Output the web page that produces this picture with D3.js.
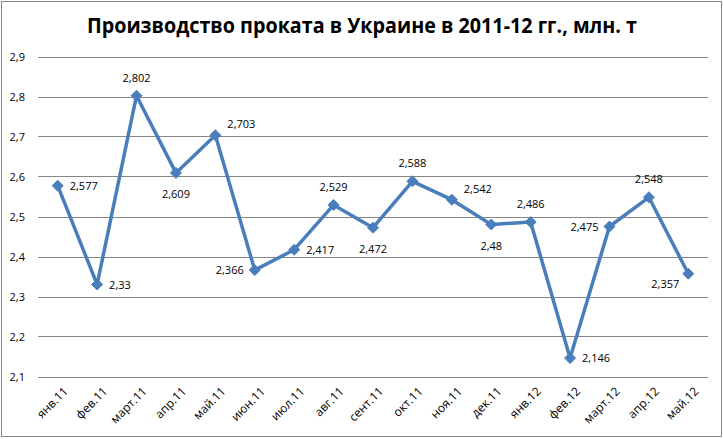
<!DOCTYPE html>
<html><head><meta charset="utf-8">
<script src="https://cdn.jsdelivr.net/npm/d3@7"></script>
<style>
body{margin:0;background:#fff;}
text{font-family:"Open Sans","Noto Sans",sans-serif;}
</style></head>
<body><svg id="c" width="723" height="439"></svg>
<script>
const categories = ["янв.11","фев.11","март.11","апр.11","май.11","июн.11","июл.11","авг.11","сент.11","окт.11","ноя.11","дек.11","янв.12","фев.12","март.12","апр.12","май.12"];
const values = [2.577,2.33,2.802,2.609,2.703,2.366,2.417,2.529,2.472,2.588,2.542,2.48,2.486,2.146,2.475,2.548,2.357];
const labelText = ["2,577","2,33","2,802","2,609","2,703","2,366","2,417","2,529","2,472","2,588","2,542","2,48","2,486","2,146","2,475","2,548","2,357"];
// label placement: r=right, a=above, b=below, l=left, ra=right-above, bl=below-left
const labelPos = ["r","r","a","b","ra","l","r","a","b","a","ra","b","a","r","l","a","bl"];
const yTicks = [2.1,2.2,2.3,2.4,2.5,2.6,2.7,2.8,2.9];
const yTickLabels = ["2,1","2,2","2,3","2,4","2,5","2,6","2,7","2,8","2,9"];
const title = "Производство проката в Украине в 2011-12 гг., млн. т";

const svg = d3.select("#c");
svg.append("rect").attr("x",1.5).attr("y",1.5).attr("width",720).attr("height",435)
  .attr("fill","#fff").attr("stroke","#868686").attr("stroke-width",1);

svg.append("text").attr("x",362).attr("y",33).attr("text-anchor","middle")
  .attr("font-size",21).attr("font-weight","bold").attr("fill","#000")
  .attr("textLength",550).attr("lengthAdjust","spacingAndGlyphs").text(title);

const x = d3.scaleBand().domain(categories).range([38,708]);
const y = d3.scaleLinear().domain([2.1,2.9]).range([376.5,56.5]);

const grid = svg.append("g");
grid.selectAll("line").data(yTicks).join("line")
  .attr("x1",38).attr("x2",708).attr("y1",d=>Math.round(y(d))+0.5).attr("y2",d=>Math.round(y(d))+0.5)
  .attr("stroke","#868686").attr("stroke-width",1);

const yAxis = d3.axisLeft(y).tickValues(yTicks).tickSize(0).tickFormat((d,i)=>yTickLabels[i]);
const ya = svg.append("g").attr("transform","translate(28,0)").call(yAxis);
ya.select(".domain").remove();
ya.selectAll("text").attr("font-size",11).attr("fill","#000").attr("font-family","'Open Sans',sans-serif").attr("dy","0.35em");

const xAxis = d3.axisBottom(x).tickSize(0);
const xa = svg.append("g").attr("transform","translate(0,380)").call(xAxis);
xa.select(".domain").remove();
xa.selectAll("text").attr("font-size",12).attr("fill","#000").attr("font-family","'Open Sans',sans-serif")
  .attr("text-anchor","end").attr("transform","translate(6,7) rotate(-45)").attr("dy","0.6em").attr("y",0);

const cx = d => x(d) + x.bandwidth()/2;
const line = d3.line().x((d,i)=>cx(categories[i])).y(d=>y(d));
svg.append("path").datum(values).attr("d",line).attr("fill","none")
  .attr("stroke","#4a7ebb").attr("stroke-width",3.5).attr("stroke-linejoin","round");

const r = 5.5;
const diamond = `M0,${-r}L${r},0L0,${r}L${-r},0Z`;
svg.selectAll(".m").data(values).join("path").attr("class","m")
  .attr("transform",(d,i)=>`translate(${cx(categories[i])},${y(d)})`)
  .attr("d",diamond).attr("fill","#4a7ebb").attr("stroke","#4a7ebb");

const off = {r:[12,4,"start"], a:[0,-14,"middle"], b:[0,25,"middle"], l:[-11,4,"end"], ra:[12,-7,"start"], bl:[-9,14,"end"]};
svg.selectAll(".lbl").data(values).join("text").attr("class","lbl")
  .attr("x",(d,i)=>cx(categories[i])+off[labelPos[i]][0])
  .attr("y",(d,i)=>y(d)+off[labelPos[i]][1])
  .attr("text-anchor",(d,i)=>off[labelPos[i]][2])
  .attr("font-size",11).attr("fill","#000")
  .text((d,i)=>labelText[i]);
</script></body></html>
